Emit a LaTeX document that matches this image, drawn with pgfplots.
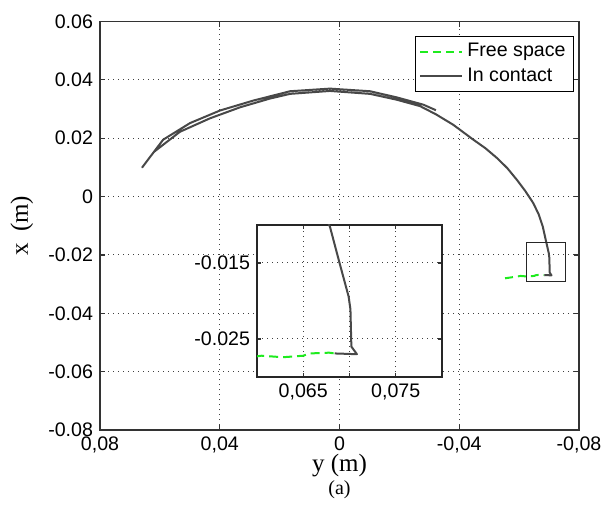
\documentclass[border=0pt]{standalone}
\usepackage{pgfplots}
\pgfplotsset{compat=1.18}
\usepackage{pgfplotstable}
\usepackage{fontspec}
\setmainfont{Liberation Sans}
\newfontfamily\timesfont{Liberation Serif}

\definecolor{contactcol}{RGB}{72,72,72}
\definecolor{freecol}{RGB}{30,235,30}
\newcommand{\ticksize}{\fontsize{9.8}{11}\selectfont}

% a = y position (m), b = x position (m)
\pgfplotstableread{
a b
-0.0684 -0.0269
-0.0708 -0.0270
-0.0702 -0.0260
-0.0701 -0.0211
-0.0699 -0.0194
-0.0689 -0.0149
-0.0679 -0.0103
-0.0665 -0.0060
-0.0647 -0.0022
-0.0620 0.0020
-0.0592 0.0058
-0.0560 0.0098
-0.0525 0.0133
-0.0487 0.0166
-0.0447 0.0195
-0.0380 0.0246
-0.0322 0.0282
-0.0269 0.0310
-0.0191 0.0332
-0.0102 0.0352
0.0032 0.0362
0.0165 0.0352
0.0232 0.0336
0.0332 0.0306
0.0433 0.0268
0.0533 0.0222
0.0620 0.0153
0.0659 0.0100
0.0620 0.0153
0.0589 0.0195
0.0499 0.0252
0.0399 0.0295
0.0288 0.0329
0.0165 0.0361
0.0032 0.0370
-0.0102 0.0361
-0.0191 0.0340
-0.0280 0.0315
-0.0322 0.0296
}\contact

\pgfplotstableread{
a b
-0.0553 -0.0280
-0.0580 -0.0276
-0.0605 -0.0272
-0.0628 -0.0274
-0.0650 -0.0272
-0.0657 -0.0269
-0.0678 -0.0268
-0.0684 -0.0269
}\freespace

\begin{document}
\begin{tikzpicture}
\begin{axis}[
  name=main, scale only axis, width=239.5pt, height=204.25pt,
  x dir=reverse, xmin=-0.08, xmax=0.08, ymin=-0.08, ymax=0.06,
  scaled ticks=false,
  xtick={-0.08,-0.04,0,0.04,0.08},
  xticklabels={{-0,08},{-0,04},{0},{0,04},{0,08}},
  ytick={-0.08,-0.06,-0.04,-0.02,0,0.02,0.04,0.06},
  yticklabels={{-0.08},{-0.06},{-0.04},{-0.02},{0},{0.02},{0.04},{0.06}},
  grid=major,
  grid style={black!75, line width=0.5pt, dash pattern=on 0.5pt off 2pt},
  axis line style={black!80, line width=0.6pt},
  major tick length=2.5pt, tick style={black!80, line width=0.6pt},
  ticklabel style={font=\ticksize},
  xlabel={y (m)}, ylabel={x\hspace{0.45em}(m)},
  label style={font=\timesfont\fontsize{12.5}{14}\selectfont},
  xlabel style={at={(axis description cs:0.5,-0.088)}, anchor=center},
  ylabel style={at={(axis description cs:-0.163,0.5)}, anchor=center},
  legend style={at={(axis description cs:0.9896,0.9645)}, anchor=north east,
    draw=black, line width=0.5pt, fill=white, font=\ticksize,
    inner xsep=2pt, inner ysep=1.5pt, row sep=0pt},
  legend cell align=left,
  legend image code/.code={\draw[#1] (0pt,0pt) -- (21pt,0pt);},
]
\addplot[freecol, line width=1pt, dash pattern=on 4pt off 2.5pt]
  table[x=a, y=b] {\freespace};
\addlegendentry{Free space}
\addplot[contactcol, line width=1pt, line join=round]
  table[x=a, y=b] {\contact};
\addlegendentry{In contact}
\draw[black!85, line width=0.6pt]
  (axis cs:-0.0625,-0.0158) rectangle (axis cs:-0.0755,-0.0291);
\end{axis}

\begin{axis}[
  at={(78.5pt,26.5pt)}, anchor=south west,
  scale only axis, width=92.5pt, height=76pt,
  xmin=0.06, xmax=0.08, ymin=-0.03, ymax=-0.01,
  scaled ticks=false,
  xtick={0.065,0.07,0.075}, xticklabels={{0,065},{},{0,075}},
  ytick={-0.025,-0.015}, yticklabels={{-0.025},{-0.015}},
  grid=major,
  grid style={black!75, line width=0.5pt, dash pattern=on 0.5pt off 2pt},
  axis line style={black!85, line width=0.6pt},
  major tick length=2pt, tick style={black!80, line width=0.6pt},
  ticklabel style={font=\ticksize},
  axis background/.style={fill=white},
]
\addplot[freecol, line width=1pt, dash pattern=on 4.5pt off 2.5pt]
  table[x expr=-\thisrow{a}, y=b] {\freespace};
\addplot[contactcol, line width=1pt, line join=round]
  table[x expr=-\thisrow{a}, y=b] {\contact};
\end{axis}
\node[font=\timesfont\fontsize{10}{12}\selectfont, anchor=center]
  at (119.75pt,-30pt) {(a)};
\pgfresetboundingbox
\path (-50pt,-39pt) rectangle (251.5pt,215pt);
\end{tikzpicture}
\end{document}
